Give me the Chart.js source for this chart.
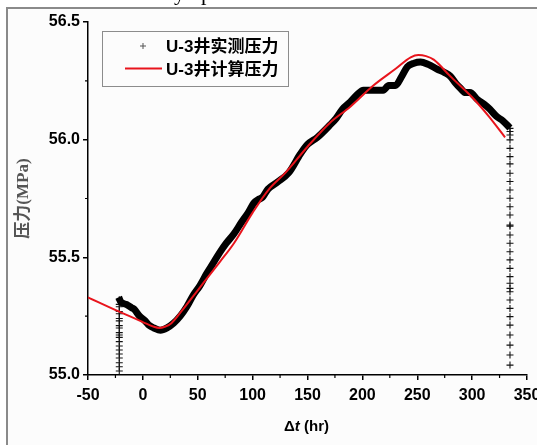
<!DOCTYPE html>
<html>
<head>
<meta charset="utf-8">
<script src="https://cdn.jsdelivr.net/npm/chart.js@4/dist/chart.umd.min.js"></script>
<style>
  html, body { margin: 0; padding: 0; background: #fff; }
  canvas { display: block; }
</style>
</head>
<body>
<canvas id="chart" width="537" height="445"></canvas>
<script>
const measuredT = [-22, -20, -15, -10, -8, -3, 2, 6, 10, 16, 22, 28, 34, 40, 46, 52, 58, 62, 70, 76, 83, 90, 96, 101, 105, 109, 114, 122.7, 133, 143.6, 150, 159, 170, 176, 182, 189, 195, 201, 210, 219, 224, 230, 236, 241, 247, 253, 260, 268, 275, 280, 285, 289, 294, 298, 305, 311, 316, 322, 328, 334.5]
const measuredP = [55.33, 55.31, 55.30, 55.285, 55.28, 55.25, 55.23, 55.21, 55.20, 55.19, 55.20, 55.22, 55.25, 55.29, 55.34, 55.38, 55.43, 55.46, 55.52, 55.56, 55.60, 55.65, 55.69, 55.73, 55.745, 55.755, 55.79, 55.82, 55.86, 55.94, 55.98, 56.01, 56.06, 56.09, 56.13, 56.16, 56.19, 56.21, 56.21, 56.21, 56.23, 56.23, 56.27, 56.31, 56.325, 56.33, 56.32, 56.30, 56.285, 56.27, 56.24, 56.22, 56.20, 56.20, 56.17, 56.15, 56.13, 56.10, 56.08, 56.05]

// scattered gauge readings at start and end of the record
const startColT = -21.5
const startColP = [55.32, 55.30, 55.29, 55.27, 55.26, 55.24, 55.23, 55.21, 55.20, 55.18, 55.17, 55.16, 55.142, 55.123, 55.106, 55.089, 55.072, 55.052, 55.035, 55.017]
const endColT = 334.5
const endColP = [56.048, 56.035, 56.02, 55.999, 55.963, 55.928, 55.897, 55.857, 55.822, 55.786, 55.751, 55.715, 55.68, 55.637, 55.632, 55.595, 55.56, 55.524, 55.489, 55.453, 55.418, 55.39, 55.368, 55.354, 55.319, 55.283, 55.248, 55.212, 55.17, 55.127, 55.085, 55.042]

// calculated pressure
const calcT = [-50, -22, 0, 10, 15, 20, 26, 35, 45, 55, 70, 83, 100, 115, 130, 150, 170, 189, 210, 230, 244, 251, 258, 265, 280, 300, 315, 330]
const calcP = [55.33, 55.27, 55.225, 55.205, 55.20, 55.205, 55.22, 55.27, 55.33, 55.39, 55.48, 55.56, 55.69, 55.79, 55.86, 55.97, 56.07, 56.14, 56.23, 56.30, 56.35, 56.36, 56.355, 56.34, 56.27, 56.18, 56.10, 56.01]

const legendLabels = ['U-3井实测压力', 'U-3井计算压力']
const xTicks = [-50, 0, 50, 100, 150, 200, 250, 300, 350]
const xMinor = [-25, 25, 75, 125, 175, 225, 275, 325]
const yMinor = [55.25, 55.75, 56.25]

const pts = (xs, ys) => xs.map((x, i) => ({x: x, y: ys[i]}))
const colPts = (x, ys) => ys.map(y => ({x: x, y: y}))

const tickFont = {family: "'Liberation Sans', Arial, sans-serif", size: 16, weight: 'bold'}

const decor = {
    id: 'decor',
    beforeDraw(chart) {
        const c = chart.ctx
        c.save()
        c.fillStyle = '#fff'
        c.fillRect(0, 0, chart.width, chart.height)
        c.fillStyle = '#fcfcfc'
        c.fillRect(8, 9, chart.width - 8, chart.height - 9)
        // cut-off text line above the figure
        c.fillStyle = '#000'
        c.font = "22px 'Liberation Serif', serif"
        c.textBaseline = 'alphabetic'
        c.fillText('y', 174, 0)
        c.fillText('p', 201, 0)
        // frame
        c.strokeStyle = '#8a8a8a'
        c.lineWidth = 2
        c.beginPath()
        c.moveTo(7, chart.height)
        c.lineTo(7, 8)
        c.lineTo(chart.width, 8)
        c.stroke()
        c.restore()
    },
    afterDraw(chart) {
        const c = chart.ctx
        const xs = chart.scales.x
        const ys = chart.scales.y
        const a = chart.chartArea
        c.save()
        // minor ticks
        c.strokeStyle = '#000'
        c.lineWidth = 1.2
        c.beginPath()
        xMinor.forEach(v => {
            const px = xs.getPixelForValue(v)
            c.moveTo(px, a.bottom)
            c.lineTo(px, a.bottom + 3)
        })
        yMinor.forEach(v => {
            const py = ys.getPixelForValue(v)
            c.moveTo(a.left - 3, py)
            c.lineTo(a.left, py)
        })
        c.stroke()

        // x title with italic t
        c.fillStyle = '#000'
        c.textBaseline = 'middle'
        const y0 = 427
        const parts = [
            ['Δ', "bold 15px 'Liberation Sans', sans-serif"],
            ['t', "italic bold 15px 'Liberation Sans', sans-serif"],
            [' (hr)', "bold 15px 'Liberation Sans', sans-serif"]
        ]
        let w = 0
        parts.forEach(p => { c.font = p[1]; w += c.measureText(p[0]).width })
        let x0 = (a.left + a.right) / 2 - w / 2 - 1
        parts.forEach(p => { c.font = p[1]; c.fillText(p[0], x0, y0); x0 += c.measureText(p[0]).width })

        // legend box
        c.strokeStyle = '#8c8c8c'
        c.lineWidth = 1
        c.strokeRect(102.5, 31.5, 186, 55)
        c.strokeStyle = '#555'
        c.lineWidth = 1
        c.beginPath()
        c.moveTo(140, 46); c.lineTo(146, 46)
        c.moveTo(143, 43); c.lineTo(143, 49)
        c.stroke()
        c.strokeStyle = '#e8141c'
        c.lineWidth = 2
        c.beginPath()
        c.moveTo(125, 68.5); c.lineTo(162, 68.5)
        c.stroke()
        c.fillStyle = '#000'
        c.font = "bold 17px 'Liberation Sans', 'Noto Sans CJK SC', sans-serif"
        c.textBaseline = 'middle'
        c.fillText(legendLabels[0], 166, 47)
        c.fillText(legendLabels[1], 166, 70)
        c.restore()
    }
}

new Chart(document.getElementById('chart'), {
    type: 'line',
    data: {
        datasets: [{
            label: legendLabels[1],
            data: pts(calcT, calcP),
            borderColor: '#e8141c',
            borderWidth: 2,
            pointRadius: 0,
            cubicInterpolationMode: 'monotone'
        }, {
            label: legendLabels[0],
            data: pts(measuredT, measuredP),
            borderColor: '#000',
            borderWidth: 7,
            pointRadius: 0,
            cubicInterpolationMode: 'monotone'
        }, {
            label: 'columns',
            data: colPts(startColT, startColP).concat(colPts(endColT, endColP)),
            showLine: false,
            pointStyle: 'cross',
            pointRadius: 3.5,
            borderColor: '#111',
            borderWidth: 1.1
        }]
    },
    options: {
        responsive: false,
        animation: false,
        layout: {padding: {left: 8, right: 10, top: 22, bottom: 0}},
        plugins: {legend: {display: false}, tooltip: {enabled: false}},
        scales: {
            x: {
                type: 'linear',
                min: -50,
                max: 350,
                afterBuildTicks(s) { s.ticks = xTicks.map(v => ({value: v})) },
                ticks: {color: '#000', font: tickFont, padding: 6, maxRotation: 0},
                grid: {drawOnChartArea: false, tickLength: 5, color: '#000', lineWidth: 1.5},
                border: {color: '#000', width: 1.5},
                afterFit(s) { s.height = 70; s.paddingLeft = 0; s.paddingRight = 0 }
            },
            y: {
                type: 'linear',
                min: 55,
                max: 56.5,
                ticks: {stepSize: 0.5, color: '#000', font: tickFont, padding: 3, callback: v => v.toFixed(1)},
                grid: {drawOnChartArea: false, tickLength: 5, color: '#000', lineWidth: 1.5},
                border: {color: '#000', width: 1.5},
                title: {
                    display: true,
                    text: '压力(MPa)',
                    color: '#555',
                    font: {family: "'Liberation Serif', 'Noto Sans CJK SC', serif", size: 17, weight: 'bold'},
                    padding: {top: 5, bottom: 0}
                },
                afterFit(s) { s.width = 80; s.paddingTop = 0; s.paddingBottom = 0 }
            }
        }
    },
    plugins: [decor]
})
</script>
</body>
</html>
